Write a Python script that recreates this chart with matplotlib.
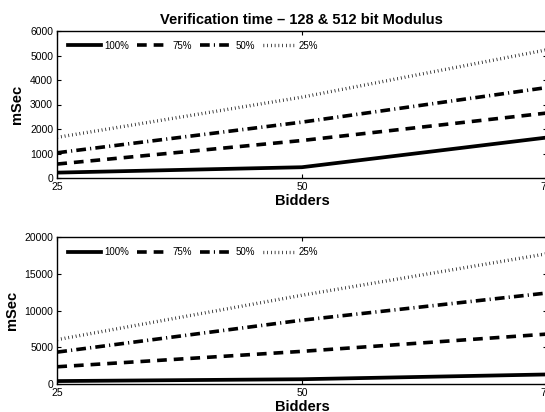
import matplotlib
matplotlib.use("Agg")
import matplotlib.pyplot as plt

plt.rcParams["font.family"] = ["Liberation Sans", "DejaVu Sans"]
plt.rcParams["lines.scale_dashes"] = False

bidders = [25, 50, 75]
labels = ["100%", "75%", "50%", "25%"]

# top panel: 128 bit modulus (mSec)
top_100 = [220, 440, 1650]
top_75 = [570, 1530, 2650]
top_50 = [1030, 2280, 3690]
top_25 = [1660, 3300, 5230]

# bottom panel: 512 bit modulus (mSec)
bot_100 = [400, 650, 1300]
bot_75 = [2350, 4450, 6800]
bot_50 = [4350, 8700, 12400]
bot_25 = [6050, 12100, 17750]

styles = [
    dict(linestyle="-", lw=2.7),
    dict(linestyle=(0, (7, 5)), lw=2.6),
    dict(linestyle=(0, (7, 3, 0.8, 3)), lw=2.6),
    dict(linestyle=(0, (0.5, 2.2)), lw=2.4),
]

W, H = 545, 412
fig = plt.figure(figsize=(W / 100, H / 100), dpi=100)

ax1 = fig.add_axes([57.3 / W, 1 - 178 / H, (546.5 - 57.3) / W, 147 / H])
ax2 = fig.add_axes([57.3 / W, 1 - 384 / H, (546.5 - 57.3) / W, 146.7 / H])

panels = [
    (ax1, [top_100, top_75, top_50, top_25], 6000, [0, 1000, 2000, 3000, 4000, 5000, 6000]),
    (ax2, [bot_100, bot_75, bot_50, bot_25], 20000, [0, 5000, 10000, 15000, 20000]),
]

for ax, series, ymax, yticks in panels:
    for vals, lab, st in zip(series, labels, styles):
        ax.plot(bidders, vals, color="black", label=lab, **st)
    ax.set_xlim(25, 75)
    ax.set_ylim(0, ymax)
    ax.set_xticks([25, 50, 75])
    ax.set_yticks(yticks)
    ax.tick_params(direction="in", length=3, width=0.8, labelsize=7.5, pad=3,
                   top=True, right=True)
    for s in ax.spines.values():
        s.set_linewidth(1.0)
    ax.set_xlabel("Bidders", fontsize=10.5, fontweight="bold", labelpad=1)
    ax.set_ylabel("mSec", fontsize=10.5, fontweight="bold", labelpad=4)
    ax.legend(loc="center left", bbox_to_anchor=((68.3 - 57.3) / 489.2, 0.9),
              ncol=4, frameon=False, fontsize=7, handlelength=3.4,
              handletextpad=0.27, columnspacing=0.8, borderpad=0,
              borderaxespad=0)

ax1.set_title("Verification time \u2013 128 & 512 bit Modulus", fontsize=10.5,
              fontweight="bold", pad=5)

fig.savefig("out.png", dpi=100)
